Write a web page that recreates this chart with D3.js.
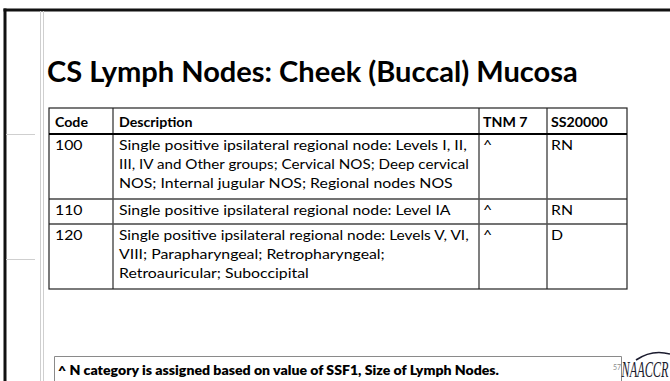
<!DOCTYPE html>
<html>
<head>
<meta charset="utf-8">
<script src="https://cdn.jsdelivr.net/npm/d3@7"></script>
<style>
  html, body { margin: 0; padding: 0; background: #fff; }
  svg { display: block; }
</style>
</head>
<body>
<svg id="slide" width="670" height="381"></svg>
<script>
// ---- data ----
const title = "CS Lymph Nodes: Cheek (Buccal) Mucosa";
const headers = ["Code", "Description", "TNM 7", "SS20000"];
const codes = ["100", "110", "120"];
const descriptions = [
  ["Single positive ipsilateral regional node: Levels I, II,",
   "III, IV and Other groups; Cervical NOS; Deep cervical",
   "NOS; Internal jugular NOS; Regional nodes NOS"],
  ["Single positive ipsilateral regional node: Level IA"],
  ["Single positive ipsilateral regional node: Levels V, VI,",
   "VIII; Parapharyngeal; Retropharyngeal;",
   "Retroauricular; Suboccipital"]
];
const tnm7 = ["^", "^", "^"];
const ss2000 = ["RN", "RN", "D"];
const footnote = "^ N category is assigned based on value of SSF1, Size of Lymph Nodes.";
const pageNumber = "57";
const logoText = "NAACCR";

// ---- drawing ----
const svg = d3.select("#slide");
const FONT = "Lato, 'Open Sans', sans-serif";

function scaleX(sel, k) {
  const x0 = +sel.attr("x");
  sel.attr("transform", `translate(${x0},0) scale(${k},1) translate(${-x0},0)`);
}
function fitX(sel, target) {
  const k = target / sel.node().getComputedTextLength();
  scaleX(sel, k);
  return k;
}

// slide frame
svg.append("line").attr("x1", 3.5).attr("x2", 670).attr("y1", 10).attr("y2", 10)
  .attr("stroke", "#111").attr("stroke-width", 3);
svg.append("line").attr("x1", 5).attr("x2", 5).attr("y1", 8.5).attr("y2", 381)
  .attr("stroke", "#111").attr("stroke-width", 3);
[40, 43].forEach(x => svg.append("line").attr("x1", x + 0.5).attr("x2", x + 0.5)
  .attr("y1", 11).attr("y2", 381).attr("stroke", "#cfcfcf").attr("stroke-width", 1));
[134, 259].forEach(y => svg.append("line").attr("x1", 6).attr("x2", 35)
  .attr("y1", y + 0.5).attr("y2", y + 0.5).attr("stroke", "#cfcfcf").attr("stroke-width", 1));

// title
const t = svg.append("text").attr("x", 47).attr("y", 82)
  .attr("font-family", FONT).attr("font-weight", 700).attr("font-size", 28)
  .attr("fill", "#000").text(title);
fitX(t, 531);

// table geometry
const colEdges = [49, 113, 479, 547, 627];
const tableTop = 108, headerH = 26, lineH = 19, rowPad = 5, rowLineH = 20;
const rowHeights = descriptions.map(d => rowPad + d.length * rowLineH);
const rowTops = [];
rowHeights.reduce((acc, h) => { rowTops.push(acc); return acc + h; }, tableTop + headerH);
const tableBottom = rowTops[rowTops.length - 1] + rowHeights[rowHeights.length - 1];

const colX = d3.scaleOrdinal().domain(headers).range(colEdges.slice(0, 4));
const colR = d3.scaleOrdinal().domain(headers).range(colEdges.slice(1));
const rowY = d3.scaleOrdinal().domain(codes).range(rowTops);

const g = svg.append("g");
rowTops.slice(1).forEach(y => g.append("line").attr("x1", colEdges[0]).attr("x2", colEdges[4])
  .attr("y1", y).attr("y2", y).attr("stroke", "#444").attr("stroke-width", 1.3));
colEdges.slice(1, 4).forEach(x => g.append("line").attr("x1", x).attr("x2", x)
  .attr("y1", tableTop).attr("y2", tableBottom).attr("stroke", "#555").attr("stroke-width", 1.5));
g.append("rect").attr("x", colEdges[0]).attr("y", tableTop)
  .attr("width", colEdges[4] - colEdges[0]).attr("height", tableBottom - tableTop)
  .attr("fill", "none").attr("stroke", "#222").attr("stroke-width", 1.2);
g.append("line").attr("x1", colEdges[0]).attr("x2", colEdges[4])
  .attr("y1", tableTop + headerH).attr("y2", tableTop + headerH)
  .attr("stroke", "#000").attr("stroke-width", 2.2);

// measure condensation so text matches the slide's narrow face
const probe = g.append("text").attr("x", 0).attr("y", -50).attr("font-family", FONT)
  .attr("font-size", 12.8).text(descriptions[0][0]);
const kBody = 348 / probe.node().getComputedTextLength();
probe.remove();
const probeB = g.append("text").attr("x", 0).attr("y", -50).attr("font-family", FONT)
  .attr("font-weight", 700).attr("font-size", 13.2).text(footnote);
const kBold = 441 / probeB.node().getComputedTextLength();
probeB.remove();

function cellText(x, y, str, bold, maxW) {
  const s = g.append("text").attr("x", x).attr("y", y)
    .attr("font-family", FONT).attr("font-weight", bold ? 700 : 400)
    .attr("font-size", bold ? 13.2 : 12.8).attr("fill", "#000")
    .text(str);
  let k = bold ? kBold : kBody;
  const w = s.node().getComputedTextLength() * k;
  if (maxW && w > maxW) k *= maxW / w;
  scaleX(s, k);
  return s;
}

const padX = 5;
headers.forEach(h => cellText(colX(h) + padX + (h === "Code" || h === "Description" ? 1 : -1), tableTop + 19, h, true));

codes.forEach((c, i) => {
  const y0 = rowY(c) + 16;
  cellText(colX("Code") + padX + 1, y0, c, false);
  const dx = colX("Description") + padX + 1;
  const maxW = colR("Description") - dx - 10;
  descriptions[i].forEach((ln, j) => cellText(dx, y0 + j * lineH, ln, false, maxW));
  cellText(colX("TNM 7") + padX - 1, y0, tnm7[i], false);
  cellText(colX("SS20000") + padX - 1, y0, ss2000[i], false);
});

// footnote box
svg.append("path").attr("d", "M54.5,384 V356.5 H621.5 V384")
  .attr("fill", "none").attr("stroke", "#8a8a8a").attr("stroke-width", 1);
const fn = svg.append("text").attr("x", 58).attr("y", 375.5)
  .attr("font-family", FONT).attr("font-weight", 800).attr("font-size", 13.2)
  .attr("fill", "#000").text(footnote);
fitX(fn, 441);

// page number
svg.append("text").attr("x", 613).attr("y", 370).attr("font-family", FONT)
  .attr("font-size", 7).attr("fill", "#8c8c8c").text(pageNumber);

// logo
const logo = svg.append("text").attr("x", 621.5).attr("y", 377)
  .attr("font-family", "'Liberation Serif', serif").attr("font-style", "italic")
  .attr("font-size", 24).attr("fill", "#1b1b2e").text(logoText);
fitX(logo, 47);
svg.append("path").attr("d", "M636,360 Q652,349 670,354")
  .attr("fill", "none").attr("stroke", "#1b1b2e").attr("stroke-width", 1.6);
</script>
</body>
</html>
